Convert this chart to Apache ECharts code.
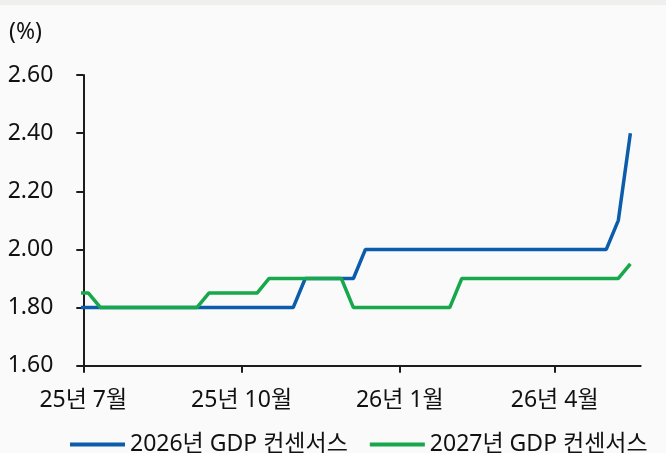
<!DOCTYPE html>
<html>
<head>
<meta charset="utf-8">
<script src="https://cdn.jsdelivr.net/npm/echarts@6/dist/echarts.min.js"></script>
<style>
  html, body { margin: 0; padding: 0; background: #fafafa; }
  #chart { width: 666px; height: 453px; }
</style>
</head>
<body>
<div id="chart"></div>
<script>
// Weekly observation dates (Fridays)
const weekDates = [
  '2025-06-27', '2025-07-04', '2025-07-11', '2025-07-18', '2025-07-25',
  '2025-08-01', '2025-08-08', '2025-08-15', '2025-08-22', '2025-08-29',
  '2025-09-05', '2025-09-12', '2025-09-19', '2025-09-26',
  '2025-10-03', '2025-10-10', '2025-10-17', '2025-10-24', '2025-10-31',
  '2025-11-07', '2025-11-14', '2025-11-21', '2025-11-28',
  '2025-12-05', '2025-12-12', '2025-12-19', '2025-12-26',
  '2026-01-02', '2026-01-09', '2026-01-16', '2026-01-23', '2026-01-30',
  '2026-02-06', '2026-02-13', '2026-02-20', '2026-02-27',
  '2026-03-06', '2026-03-13', '2026-03-20', '2026-03-27',
  '2026-04-03', '2026-04-10', '2026-04-17', '2026-04-24',
  '2026-05-01', '2026-05-08', '2026-05-15'
];

// 2026 GDP growth consensus (%)
const gdp2026 = [
  1.80, 1.80, 1.80, 1.80, 1.80,
  1.80, 1.80, 1.80, 1.80, 1.80,
  1.80, 1.80, 1.80, 1.80,
  1.80, 1.80, 1.80, 1.80, 1.80,
  1.90, 1.90, 1.90, 1.90,
  1.90, 2.00, 2.00, 2.00,
  2.00, 2.00, 2.00, 2.00, 2.00,
  2.00, 2.00, 2.00, 2.00,
  2.00, 2.00, 2.00, 2.00,
  2.00, 2.00, 2.00, 2.00,
  2.00, 2.10, 2.40
];

// 2027 GDP growth consensus (%)
const gdp2027 = [
  1.85, 1.85, 1.80, 1.80, 1.80,
  1.80, 1.80, 1.80, 1.80, 1.80,
  1.80, 1.85, 1.85, 1.85,
  1.85, 1.85, 1.90, 1.90, 1.90,
  1.90, 1.90, 1.90, 1.90,
  1.80, 1.80, 1.80, 1.80,
  1.80, 1.80, 1.80, 1.80, 1.80,
  1.90, 1.90, 1.90, 1.90,
  1.90, 1.90, 1.90, 1.90,
  1.90, 1.90, 1.90, 1.90,
  1.90, 1.90, 1.95
];

// Quarterly tick dates on the x axis
const xTickDates = ['2025-07-01', '2025-10-01', '2026-01-01', '2026-04-01'];
const xRange = ['2025-07-01', '2026-05-21'];

const seriesNames = ['2026년 GDP 컨센서스', '2027년 GDP 컨센서스'];
const yTicks = { min: 1.6, max: 2.6, step: 0.2 };

// Dates are placed on a numeric axis as UTC day timestamps
function toTime(s) {
  const [y, m, d] = s.split('-').map(Number);
  return Date.UTC(y, m - 1, d);
}

const FONT = "'Noto Sans', 'Noto Sans CJK KR', sans-serif";
const FS = 23;
const TEXT = '#111111';
const AXIS = '#1c1c1c';

const chart = echarts.init(document.getElementById('chart'), null, { renderer: 'canvas' });

chart.setOption({
  backgroundColor: '#fafafa',
  animation: false,
  textStyle: { fontFamily: FONT },
  graphic: [{
    type: 'rect',
    left: 0, top: 0,
    shape: { width: 666, height: 5 },
    style: { fill: '#efefed' },
    silent: true
  }],
  title: {
    text: '(%)',
    left: 9,
    top: 21,
    padding: 0,
    textStyle: { fontSize: FS, fontWeight: 'normal', color: TEXT, fontFamily: FONT }
  },
  legend: {
    left: 70,
    top: 433,
    padding: 0,
    icon: 'rect',
    itemWidth: 55,
    itemHeight: 4,
    itemGap: 22,
    textStyle: { fontSize: FS, color: TEXT, fontFamily: FONT },
    data: seriesNames
  },
  grid: {
    left: 83.3,
    right: 25.3,
    top: 75,
    bottom: 87.3,
    containLabel: false,
    outerBoundsMode: 'none'
  },
  xAxis: {
    type: 'value',
    min: toTime(xRange[0]),
    max: toTime(xRange[1]),
    axisLine: { show: true, onZero: false, lineStyle: { color: AXIS, width: 2 } },
    axisTick: {
      show: true,
      length: 7,
      lineStyle: { color: AXIS, width: 2 },
      customValues: xTickDates.map(toTime)
    },
    axisLabel: {
      margin: 23,
      fontSize: FS,
      color: TEXT,
      fontFamily: FONT,
      customValues: xTickDates.map(toTime),
      formatter: function (v) {
        const d = new Date(v);
        return String(d.getUTCFullYear()).slice(2) + '년 ' + (d.getUTCMonth() + 1) + '월';
      }
    },
    splitLine: { show: false }
  },
  yAxis: {
    type: 'value',
    min: yTicks.min,
    max: yTicks.max,
    interval: yTicks.step,
    axisLine: { show: true, lineStyle: { color: AXIS, width: 2 } },
    axisTick: { show: true, length: 7, lineStyle: { color: AXIS, width: 2 } },
    axisLabel: {
      margin: 30,
      fontSize: FS,
      color: TEXT,
      fontFamily: FONT,
      formatter: v => v.toFixed(2)
    },
    splitLine: { show: false }
  },
  series: [
    {
      name: seriesNames[0],
      type: 'line',
      symbol: 'none',
      clip: true,
      lineStyle: { color: '#0b5cab', width: 3.5 },
      itemStyle: { color: '#0b5cab' },
      data: weekDates.map((d, i) => [toTime(d), gdp2026[i]]),
      z: 3
    },
    {
      name: seriesNames[1],
      type: 'line',
      symbol: 'none',
      clip: true,
      lineStyle: { color: '#17a84b', width: 3.5 },
      itemStyle: { color: '#17a84b' },
      data: weekDates.map((d, i) => [toTime(d), gdp2027[i]]),
      z: 4
    }
  ]
});
</script>
</body>
</html>
